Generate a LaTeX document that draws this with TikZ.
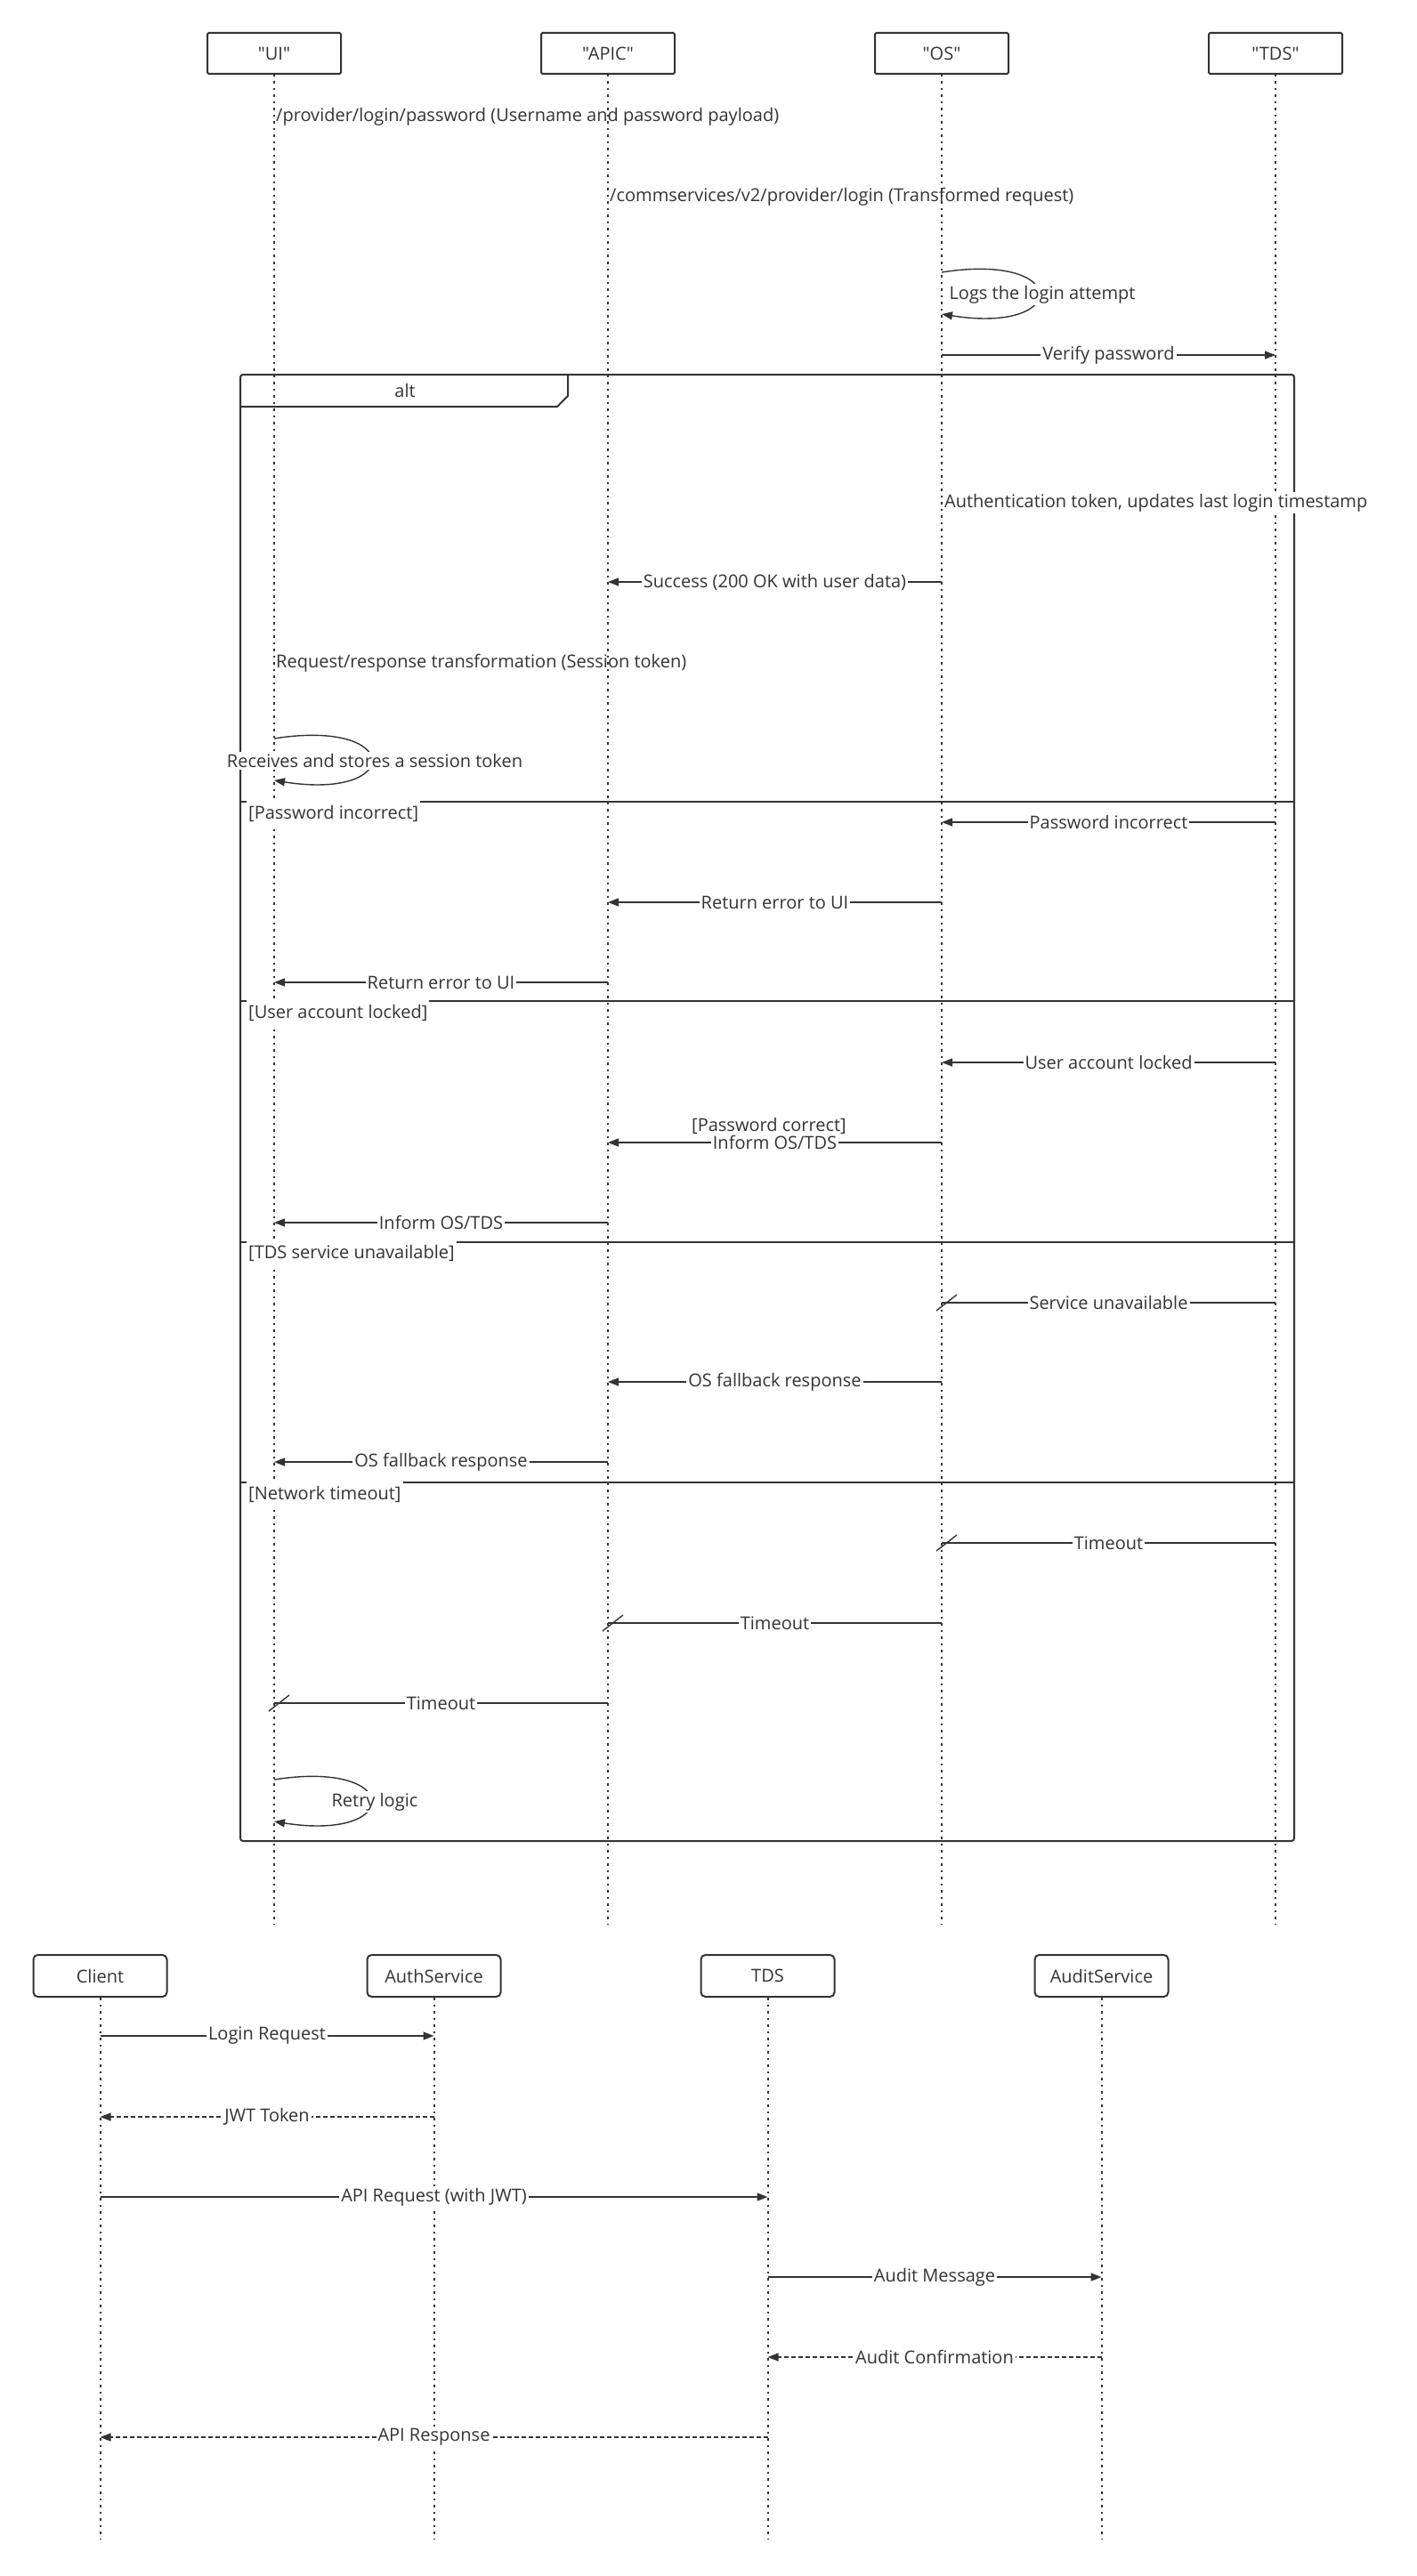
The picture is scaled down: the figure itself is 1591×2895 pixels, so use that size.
\documentclass[tikz,border=0pt]{standalone}
\usepackage{fontspec}
\setmainfont{Open Sans}[Ligatures=TeXOff]
\usetikzlibrary{arrows.meta,calc}
\definecolor{ink}{HTML}{333333}
\begin{document}
\begin{tikzpicture}[x=1pt,y=-1pt,
  every node/.style={font=\fontsize{20}{24}\selectfont, text=ink},
  actor/.style={draw=ink, line width=2pt, fill=white, minimum width=150pt, minimum height=46pt, rounded corners=1.5pt, inner sep=0pt},
  actorb/.style={actor, minimum width=150pt, minimum height=47pt, rounded corners=5pt},
  lifeline/.style={draw=ink, line width=2pt, dash pattern=on 2.5pt off 5pt},
  msg/.style={draw=ink, line width=1.4pt},
  arr/.style={-{Triangle[length=12pt,width=9pt]}},
  reply/.style={msg, arr, dash pattern=on 5pt off 3pt},
  lbl/.style={fill=white, inner sep=2pt},
  frame/.style={draw=ink, line width=2pt},
  sepline/.style={draw=ink, line width=1.6pt},
  guard/.style={fill=white, inner xsep=2pt, inner ysep=0pt, anchor=west, minimum height=30pt}
]
\fill[white] (0,0) rectangle (1591,2895);
\useasboundingbox (0,0) rectangle (1591,2895);

% ---------- first diagram ----------
\node[actor] (ui) at (308,60) {"UI"};
\node[actor] (apic) at (683,60) {"APIC"};
\node[actor] (os) at (1058,60) {"OS"};
\node[actor] (tds) at (1433,60) {"TDS"};
\coordinate (topend) at (0,2163);

% alt frame
\draw[frame, rounded corners=3pt] (270,421) rectangle (1454,2069);
\draw[frame] (270,457) -- (626,457) -- (638,445) -- (638,421);
\node (altlbl) at (455,439) {alt};

\foreach \p in {ui,apic,os,tds}{
  \draw[lifeline] (\p.south) -- (\p |- topend);
}

% separators
\coordinate (s1) at (0,901);
\coordinate (s2) at (0,1125);
\coordinate (s3) at (0,1396);
\coordinate (s4) at (0,1666);
\foreach \s in {s1,s2,s3,s4}{
  \draw[sepline] (270,0 |- \s) -- (1454,0 |- \s);
}

\node[anchor=west, inner sep=1pt] (t1) at (309,131) {/provider/login/password (Username and password payload)};
\node[anchor=west, inner sep=1pt] (t2) at (684,221) {/commservices/v2/provider/login (Transformed request)};

% OS self loop
\coordinate (l1a) at (0,306);
\coordinate (l1b) at (0,353);
\draw[msg, arr] (os |- l1a) .. controls +(145,-23) and +(145,23) .. (os |- l1b);
\node[lbl] (t3) at (1171,331) {Logs the login attempt};

\coordinate (m4) at (0,399);
\draw[msg, arr] (os |- m4) -- node[lbl] (t4) {Verify password} (tds |- m4);

\node[lbl, anchor=west] (t5) at (1059,565) {Authentication token, updates last login timestamp};

\coordinate (m6) at (0,654);
\draw[msg, arr] (os |- m6) -- node[lbl] (t6) {Success (200 OK with user data)} (apic |- m6);

\node[anchor=west, inner sep=1pt] (t7) at (309,745) {Request/response transformation (Session token)};

% UI self loop
\coordinate (l2a) at (0,830);
\coordinate (l2b) at (0,877);
\draw[msg, arr] (ui |- l2a) .. controls +(145,-23) and +(145,23) .. (ui |- l2b);
\node[lbl] (t8) at (421,855) {Receives and stores a session token};

% Password incorrect
\node[guard] (g1) at (277,914) {[Password incorrect]};
\coordinate (m8) at (0,924);
\draw[msg, arr] (tds |- m8) -- node[lbl] (t9) {Password incorrect} (os |- m8);
\coordinate (m9) at (0,1014);
\draw[msg, arr] (os |- m9) -- node[lbl] (t10) {Return error to UI} (apic |- m9);
\coordinate (m10) at (0,1104);
\draw[msg, arr] (apic |- m10) -- node[lbl] (t11) {Return error to UI} (ui |- m10);

% User account locked
\node[guard] (g2) at (277,1138) {[User account locked]};
\coordinate (m11) at (0,1194);
\draw[msg, arr] (tds |- m11) -- node[lbl] (t12) {User account locked} (os |- m11);
\coordinate (m12) at (0,1284);
\draw[msg, arr] (os |- m12) -- node[lbl, inner ysep=0pt] (t13) {Inform OS/TDS} (apic |- m12);
\node[inner sep=0pt] (t13b) at (864,1265) {[Password correct]};
\coordinate (m13) at (0,1374);
\draw[msg, arr] (apic |- m13) -- node[lbl] (t14) {Inform OS/TDS} (ui |- m13);

% TDS service unavailable
\node[guard] (g3) at (277,1408) {[TDS service unavailable]};
\coordinate (m14) at (0,1464);
\draw[msg] (tds |- m14) -- node[lbl] (t15) {Service unavailable} (os |- m14);
\draw[msg] ($(os |- m14)+(-6,9)$) -- ($(os |- m14)+(17,-9)$);
\coordinate (m15) at (0,1553);
\draw[msg, arr] (os |- m15) -- node[lbl] (t16) {OS fallback response} (apic |- m15);
\coordinate (m16) at (0,1643);
\draw[msg, arr] (apic |- m16) -- node[lbl] (t17) {OS fallback response} (ui |- m16);

% Network timeout
\node[guard] (g4) at (277,1679) {[Network timeout]};
\coordinate (m17) at (0,1734);
\draw[msg] (tds |- m17) -- node[lbl] (t18) {Timeout} (os |- m17);
\draw[msg] ($(os |- m17)+(-6,9)$) -- ($(os |- m17)+(17,-9)$);
\coordinate (m18) at (0,1824);
\draw[msg] (os |- m18) -- node[lbl] (t19) {Timeout} (apic |- m18);
\draw[msg] ($(apic |- m18)+(-6,9)$) -- ($(apic |- m18)+(17,-9)$);
\coordinate (m19) at (0,1914);
\draw[msg] (apic |- m19) -- node[lbl] (t20) {Timeout} (ui |- m19);
\draw[msg] ($(ui |- m19)+(-6,9)$) -- ($(ui |- m19)+(17,-9)$);

% Retry loop
\coordinate (l3a) at (0,2000);
\coordinate (l3b) at (0,2047);
\draw[msg, arr] (ui |- l3a) .. controls +(145,-23) and +(145,23) .. (ui |- l3b);
\node[lbl] (t21) at (421,2025) {Retry logic};

% ---------- second diagram ----------
\node[actorb] (client) at (112.5,2220.5) {Client};
\node[actorb] (auth) at (487.5,2220.5) {AuthService};
\node[actorb] (tdsb) at (862.5,2220.5) {TDS};
\node[actorb] (audit) at (1237.5,2220.5) {AuditService};
\coordinate (botend) at (0,2853);
\foreach \p in {client,auth,tdsb,audit}{
  \draw[lifeline] (\p.south) -- (\p |- botend);
}

\coordinate (b1) at (0,2288);
\draw[msg, arr] (client |- b1) -- node[lbl] (u1) {Login Request} (auth |- b1);
\coordinate (b2) at (0,2379);
\draw[reply] (auth |- b2) -- node[lbl] (u2) {JWT Token} (client |- b2);
\coordinate (b3) at (0,2469);
\draw[msg, arr] (client |- b3) -- node[lbl] (u3) {API Request (with JWT)} (tdsb |- b3);
\coordinate (b4) at (0,2559);
\draw[msg, arr] (tdsb |- b4) -- node[lbl] (u4) {Audit Message} (audit |- b4);
\coordinate (b5) at (0,2649);
\draw[reply] (audit |- b5) -- node[lbl] (u5) {Audit Confirmation} (tdsb |- b5);
\coordinate (b6) at (0,2739);
\draw[reply] (tdsb |- b6) -- node[lbl] (u6) {API Response} (client |- b6);
\end{tikzpicture}
\end{document}
